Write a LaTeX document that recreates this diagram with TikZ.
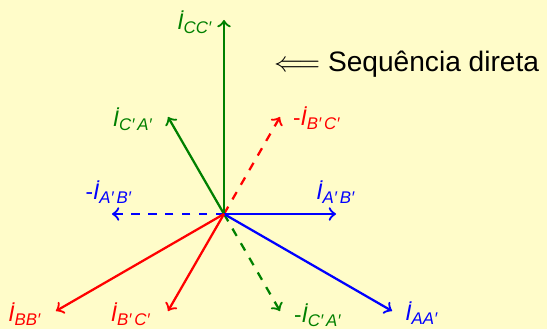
\documentclass[tikz,border=0pt]{standalone}
\usepackage{fontspec}
\setmainfont{Liberation Sans}
\usepackage{tikz}
\usetikzlibrary{calc}
\definecolor{paper}{HTML}{FFFCC9}
\definecolor{fgreen}{HTML}{008000}
\definecolor{fred}{HTML}{FF0000}
\definecolor{fblue}{HTML}{0000FF}
% phasor label: sign, subscript
\newcommand\fasor[2]{#1{\itshape İ}\textsubscript{\itshape #2}}

\begin{document}
\begin{tikzpicture}[x=0.0125cm, y=0.0125cm, >=to,
    vec/.style={->, thick},
    neg/.style={->, thick, dashed},
    lbl/.style={font=\footnotesize, inner sep=1pt}]
  \fill[paper] (-224,-115) rectangle (323,214);
  \useasboundingbox (-224,-115) rectangle (323,214);

  \coordinate (O) at (0,0);
  % phase currents
  \coordinate (tAA) at (-30:194);
  \coordinate (tBB) at (210:194);
  \coordinate (tCC) at (90:194);
  % line-to-line currents and their negatives
  \coordinate (tAB) at (0:112);
  \coordinate (tBC) at (240:112);
  \coordinate (tCA) at (120:112);
  \coordinate (nAB) at (180:112);
  \coordinate (nBC) at (60:112);
  \coordinate (nCA) at (300:112);

  \draw[neg, fblue] (O) -- (nAB);
  \draw[neg, fred] (O) -- (nBC);
  \draw[neg, fgreen] (O) -- (nCA);
  \draw[vec, fgreen] (O) -- (tCC);
  \draw[vec, fgreen] (O) -- (tCA);
  \draw[vec, fblue] (O) -- (tAB);
  \draw[vec, fblue] (O) -- (tAA);
  \draw[vec, fred] (O) -- (tBB);
  \draw[vec, fred] (O) -- (tBC);

  \node[lbl, fgreen] (lCC) at ($(tCC)+(-29,-2)$) {\fasor{}{CC′}};
  \node[lbl, fgreen] (lCA) at ($(tCA)+(-35,-2)$) {\fasor{}{C′\,A′}};
  \node[lbl, fred] (lnBC) at ($(nBC)+(37,-1)$) {\fasor{-}{B′\,C′}};
  \node[lbl, fblue] (lAB) at ($(tAB)+(0,22)$) {\fasor{}{A′\,B′}};
  \node[lbl, fblue] (lnAB) at ($(nAB)+(-3,22)$) {\fasor{-}{A′\,B′}};
  \node[lbl, fred] (lBB) at ($(tBB)+(-31,-3)$) {\fasor{}{BB′}};
  \node[lbl, fred] (lBC) at ($(tBC)+(-37,-3)$) {\fasor{}{B′\,C′}};
  \node[lbl, fgreen] (lnCA) at ($(nCA)+(38,-4)$) {\fasor{-}{C′\,A′}};
  \node[lbl, fblue] (lAA) at ($(tAA)+(30,-2)$) {\fasor{}{AA′}};

  \node[inner sep=1pt] (seq) at (183,150) {$\Longleftarrow$ Sequência direta};
\end{tikzpicture}
\end{document}
